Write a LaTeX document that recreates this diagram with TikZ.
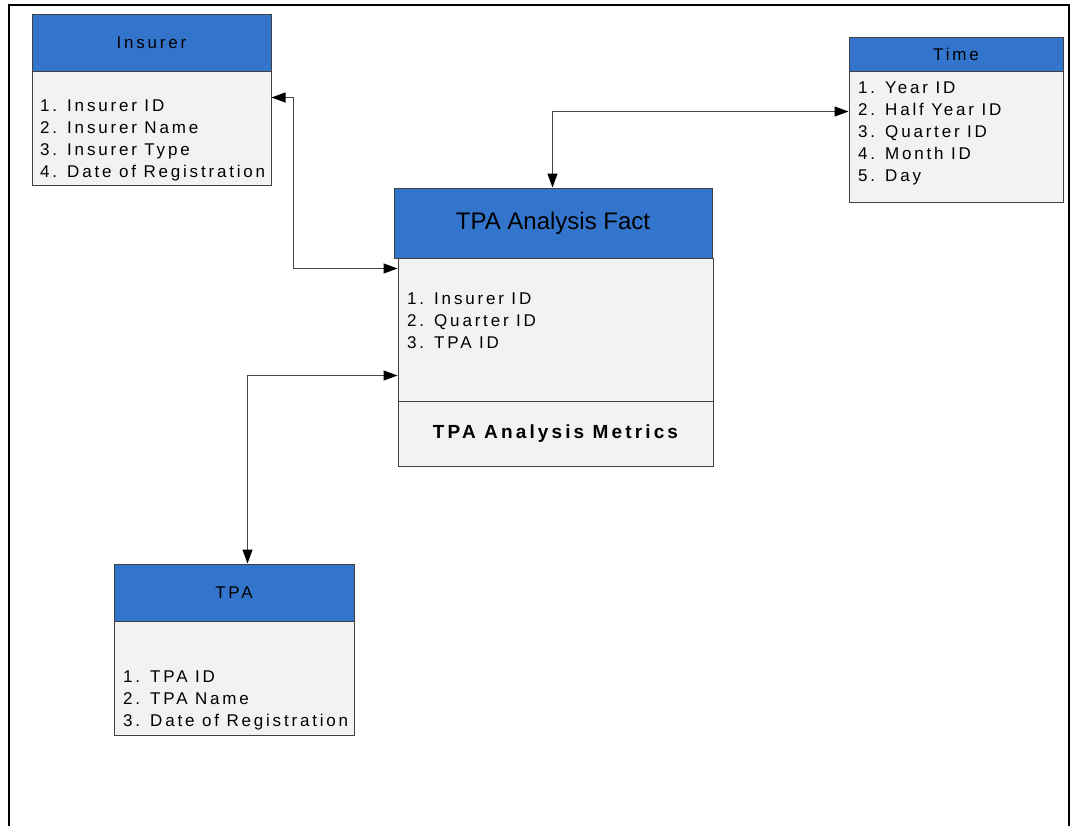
\documentclass[tikz,border=0pt]{standalone}
\usepackage{fontspec}
\setmainfont{Liberation Sans}
\newfontfamily\spaced[LetterSpace=16.5]{Liberation Sans}
\usetikzlibrary{arrows.meta}
\definecolor{hdrblue}{RGB}{51,117,204}
\definecolor{bodygray}{RGB}{242,242,242}
\definecolor{edgegray}{RGB}{64,64,64}
\definecolor{linkgray}{RGB}{70,70,70}
\begin{document}
\begin{tikzpicture}[x=1pt,y=-1pt,
  hdr/.style={draw=edgegray,line width=1pt,fill=hdrblue,inner sep=0pt,
    font=\spaced\fontsize{17}{22}\selectfont},
  bodybox/.style={draw=edgegray,line width=1pt,fill=bodygray,inner sep=0pt},
  % lists are placed by the baseline of their last line
  listtext/.style={inner sep=0pt,anchor=base west,align=left,
    font=\spaced\fontsize{17}{22}\selectfont},
  link/.style={draw=linkgray,line width=1.2pt,
    {Triangle[length=14pt,width=10pt,black]}-{Triangle[length=14pt,width=10pt,black]}}]
\useasboundingbox (0,0) rectangle (1074,825);

% outer frame, open at the bottom
\draw[line width=2.5pt] (9,830) -- (9,5) -- (1069,5) -- (1069,830);

% Insurer dimension
\node[hdr,minimum width=239pt,minimum height=57pt] (insH) at (151.5,42.5) {Insurer};
\node[bodybox,minimum width=239pt,minimum height=114pt] (insB) at (151.5,128) {};
\node[listtext] (insL) at (40,177) {1. Insurer ID\\2. Insurer Name\\3. Insurer Type\\4. Date of Registration};

% Time dimension
\node[hdr,minimum width=214pt,minimum height=34pt] (timeH) at (956,54) {Time};
\node[bodybox,minimum width=214pt,minimum height=131pt] (timeB) at (956,136.5) {};
\node[listtext] (timeL) at (858,181) {1. Year ID\\2. Half Year ID\\3. Quarter ID\\4. Month ID\\5. Day};

% TPA Analysis fact table
\node[hdr,minimum width=318pt,minimum height=70pt,font=\fontsize{24}{28}\selectfont] (factH) at (553,223) {TPA Analysis Fact};
\node[bodybox,minimum width=315pt,minimum height=143pt] (factB) at (555.5,329.5) {};
\node[bodybox,minimum width=315pt,minimum height=65pt,
  font=\spaced\bfseries\fontsize{19}{22}\selectfont] (factM) at (555.5,433.5) {TPA Analysis Metrics};
\node[listtext] (factL) at (407,348) {1. Insurer ID\\2. Quarter ID\\3. TPA ID};

% TPA dimension
\node[hdr,minimum width=240pt,minimum height=57pt] (tpaH) at (234,592.5) {TPA};
\node[bodybox,minimum width=240pt,minimum height=114pt] (tpaB) at (234,678) {};
\node[listtext] (tpaL) at (123,726) {1. TPA ID\\2. TPA Name\\3. Date of Registration};

% relationships
\draw[link] ([yshift=-27pt]insB.north east) -- ++(22,0) |- ([yshift=-11pt]factB.north west);
\draw[link] ([yshift=-41pt]timeB.north west) -| ([xshift=159pt]factH.north west);
\draw[link] ([yshift=26pt]factB.south west) -| ([xshift=134pt]tpaH.north west);
\end{tikzpicture}
\end{document}
